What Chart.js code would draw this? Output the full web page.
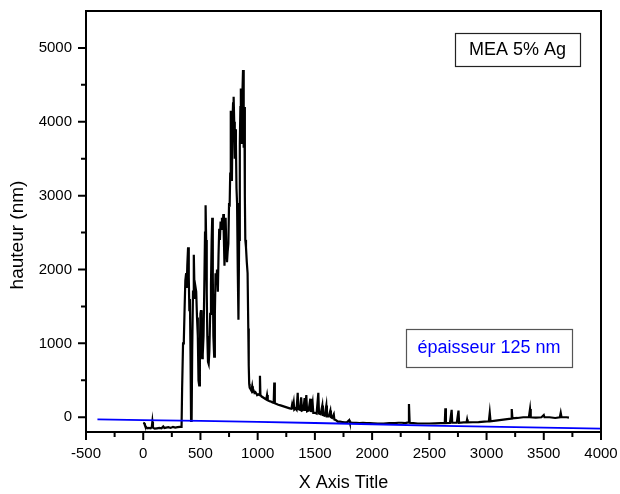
<!DOCTYPE html>
<html><head><meta charset="utf-8">
<script src="https://cdn.jsdelivr.net/npm/chart.js@4"></script>
<style>html,body{margin:0;padding:0;background:#fff}#wrap{width:620px;height:494px}</style>
</head><body><div id="wrap"><canvas id="c" width="620" height="494"></canvas></div>
<script>
// Black profile (hauteur, nm) vs position
const profileX = [0,8,15,25,35,50,65,75,80,85,100,120,140,160,175,185,200,220,240,260,280,300,320,335,
340,348,355,362,368,375,380,385,392,398,403,408,413,418,423,428,435,442,447,452,458,463,470,477,483,489,495,500,505,510,515,520,527,533,540,545,550,555,560,566,572,578,585,592,598,603,608,613,620,626,632,638,645,652,658,664,670,676,682,688,694,700,705,710,715,720,726,732,738,744,750,755,760,765,770,775,780,785,790,795,800,805,810,815,820,826,832,838,844,849,853,858,862,867,872,876,880,884,888,892,898,905,912,918,922,926,930,938,945,952,958,965,972,980,988,995,1005,1015,1020,1024,1035,1045,1055,1065,1075,1082,1088,1100,1110,1120,1130,1140,1145,1150,1165,1180,1200,1220,1240,1260,1280,1295,1300,1305,1315,1320,1330,1340,1350,1355,1370,1380,1388,1400,1410,1415,1425,1432,1445,1460,1465,1480,1486,1500,1515,1530,1536,1550,1565,1570,1585,1600,1605,1620,1635,1640,1650,1665,1670,1685,1700,1720,1740,1760,1780,1800,1805,1830,1860,1890,1920,1950,1980,2010,2050,2100,2150,2200,2230,2260,2290,2315,2322,2328,2360,2400,2450,2500,2550,2600,2635,2640,2645,2680,2695,2700,2740,2755,2760,2800,2825,2830,2835,2880,2930,2980,3020,3028,3035,3080,3130,3180,3215,3220,3226,3270,3320,3370,3380,3386,3430,3480,3500,3506,3550,3600,3640,3648,3655,3700,3720];
const profileY = [-75,-80,-110,-130,-150,-145,-150,-130,-60,-140,-155,-150,-145,-150,-125,-145,-140,-135,-145,-130,-140,-135,-130,-130,
400,1000,1050,1500,1850,1950,1750,2050,2300,1900,1450,1600,900,-50,-40,900,1700,2200,1800,1600,1750,1700,1350,1100,500,430,900,1400,1450,1000,800,850,1100,1700,2500,2870,2400,1700,1100,750,720,900,1400,1800,2400,2700,1900,1100,820,1400,1950,1800,2000,1700,2200,2550,2400,2650,2550,2700,2550,2750,2400,2050,2450,2700,2300,2100,2250,2350,2900,2850,3300,4150,3700,3200,4000,4250,4340,4000,3500,3900,3700,3100,2900,2000,1320,2400,3700,4200,4450,3900,3700,4400,4700,4300,3650,4200,3000,2400,2300,2100,1950,1200,700,450,400,380,360,420,350,360,330,340,320,300,310,300,560,300,280,270,260,250,240,300,230,220,215,210,200,195,470,190,180,170,160,150,140,130,120,115,160,110,200,105,120,100,330,110,100,270,90,100,260,85,300,80,90,250,70,200,60,60,50,330,50,40,160,30,20,160,10,10,90,0,-10,40,-30,-40,-60,-60,-65,-70,-70,-40,-70,-75,-75,-80,-75,-80,-80,-82,-85,-85,-80,-80,-75,-75,-80,-70,180,-75,-80,-85,-85,-85,-82,-80,-80,120,-80,-78,100,-75,-75,90,-75,-70,-70,-30,-70,-68,-65,-60,-55,60,-55,-45,-35,-25,-20,110,-15,-10,0,0,110,0,-5,0,30,0,0,-10,0,60,0,0,-5];
// Blue reference line (film thickness)
const refX = [-400,0,500,1000,1500,2000,2500,3000,3500,4000];
const refY = [-30,-40,-50,-62,-78,-95,-115,-128,-140,-153];
// Axis ticks
const xMajor = [-500,0,500,1000,1500,2000,2500,3000,3500,4000];
const xMinor = [-250,250,750,1250,1750,2250,2750,3250,3750];
const yMajor = [0,1000,2000,3000,4000,5000];
const yMinor = [500,1500,2500,3500,4500];
const labelTop = 'MEA 5% Ag';
const labelBottom = 'épaisseur 125 nm';
const yTitle = 'hauteur (nm)';

const FONT = "'Liberation Sans', Arial, sans-serif";
const pts = (xs, ys) => xs.map((x, i) => ({x, y: ys[i]}));

const decor = {
  id: 'decor',
  afterDraw(chart) {
    const ctx = chart.ctx, a = chart.chartArea;
    const xs = chart.scales.x, ys = chart.scales.y;
    ctx.save();
    ctx.strokeStyle = '#000';
    ctx.lineWidth = 2;
    ctx.strokeRect(a.left, a.top, a.right - a.left, a.bottom - a.top);
    ctx.beginPath();
    xMajor.forEach(v => { const p = xs.getPixelForValue(v); ctx.moveTo(p, a.bottom); ctx.lineTo(p, a.bottom + 8); });
    xMinor.forEach(v => { const p = xs.getPixelForValue(v); ctx.moveTo(p, a.bottom); ctx.lineTo(p, a.bottom + 5); });
    yMajor.forEach(v => { const p = ys.getPixelForValue(v); ctx.moveTo(a.left, p); ctx.lineTo(a.left - 8, p); });
    yMinor.forEach(v => { const p = ys.getPixelForValue(v); ctx.moveTo(a.left, p); ctx.lineTo(a.left - 5, p); });
    ctx.stroke();
    // annotation boxes
    ctx.lineWidth = 1.2;
    ctx.fillStyle = '#fff';
    ctx.strokeStyle = '#222';
    ctx.fillRect(455, 33, 125, 33);
    ctx.strokeRect(455.5, 33.5, 125, 33);
    ctx.strokeStyle = '#555';
    ctx.fillRect(406, 329, 166, 38);
    ctx.strokeRect(406.5, 329.5, 166, 38);
    ctx.font = '18px ' + FONT;
    ctx.textAlign = 'center';
    ctx.textBaseline = 'middle';
    ctx.fillStyle = '#000';
    ctx.fillText(labelTop, 517.5, 50);
    ctx.fillStyle = '#0000ff';
    ctx.fillText(labelBottom, 489, 348);
    // y axis title
    ctx.fillStyle = '#000';
    ctx.font = '19px ' + FONT;
    ctx.translate(18, 235);
    ctx.rotate(-Math.PI / 2);
    ctx.fillText(yTitle, 0, 0);
    ctx.restore();
  }
};

new Chart(document.getElementById('c'), {
  type: 'scatter',
  data: {
    datasets: [
      {data: pts(refX, refY), showLine: true, borderColor: '#0000ff', borderWidth: 1.8, pointRadius: 0, tension: 0},
      {data: pts(profileX, profileY), showLine: true, borderColor: '#000', borderWidth: 2.2, pointRadius: 0, tension: 0}
    ]
  },
  options: {
    responsive: false,
    animation: false,
    layout: {padding: {left: 0, right: 19, top: 11, bottom: 0}},
    plugins: {legend: {display: false}, tooltip: {enabled: false}},
    scales: {
      x: {
        type: 'linear', min: -500, max: 4000,
        afterFit(s) { s.height = 62; s.paddingLeft = 0; s.paddingRight = 0; },
        afterBuildTicks(s) { s.ticks = xMajor.map(v => ({value: v})); },
        grid: {display: false},
        border: {display: false},
        ticks: {padding: 5, color: '#000', font: {family: FONT, size: 15}, maxRotation: 0, autoSkip: false, callback: v => String(v)},
        title: {display: true, text: 'X Axis Title', color: '#000', font: {family: FONT, size: 18}, padding: {top: 0, bottom: 0}}
      },
      y: {
        type: 'linear', min: -200, max: 5500,
        afterFit(s) { s.width = 86; s.paddingTop = 0; s.paddingBottom = 0; },
        afterBuildTicks(s) { s.ticks = yMajor.map(v => ({value: v})); },
        grid: {display: false},
        border: {display: false},
        ticks: {padding: 6, color: '#000', font: {family: FONT, size: 15}, autoSkip: false, callback: v => String(v)},
        title: {display: false}
      }
    }
  },
  plugins: [decor]
});
</script>
</body></html>
